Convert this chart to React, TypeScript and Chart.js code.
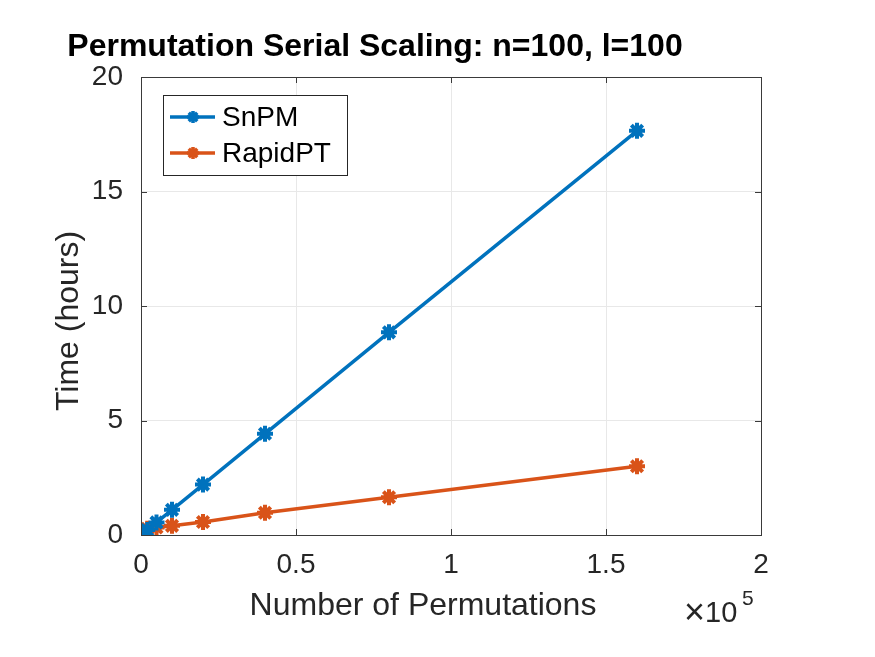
import React, { useEffect, useRef } from "react";
import { Chart, registerables } from "chart.js";

Chart.register(...registerables);

const permutations = [2000, 5000, 10000, 20000, 40000, 80000, 160000];
const snpmHours = [0.22, 0.55, 1.1, 2.2, 4.42, 8.85, 17.65];
const rapidptHours = [0.27, 0.33, 0.4, 0.57, 0.97, 1.65, 3.0];
const seriesNames = ["SnPM", "RapidPT"];
const seriesColors = ["#0072BD", "#D95319"];
const xTickValues = [0, 50000, 100000, 150000, 200000];
const yTickValues = [0, 5, 10, 15, 20];
const titleText = "Permutation Serial Scaling: n=100, l=100";
const xLabel = "Number of Permutations";
const yLabel = "Time (hours)";

const FONT = "'Liberation Sans', Arial, Helvetica, sans-serif";
const AXIS_COLOR = "#262626";

function drawStar(ctx: any, x: number, y: number, r: number, color: string) {
  ctx.save();
  ctx.strokeStyle = color;
  ctx.lineWidth = 3.5;
  ctx.beginPath();
  for (let k = 0; k < 4; k++) {
    const ang = (k * Math.PI) / 4;
    ctx.moveTo(x - r * Math.cos(ang), y - r * Math.sin(ang));
    ctx.lineTo(x + r * Math.cos(ang), y + r * Math.sin(ang));
  }
  ctx.stroke();
  ctx.restore();
}

const decorPlugin = {
  id: "decor",
  afterDraw(chart: any) {
    const { ctx, chartArea: a, scales } = chart;
    const xs = scales.x;
    const ys = scales.y;
    ctx.save();
    // box
    ctx.strokeStyle = "#3a3a3a";
    ctx.lineWidth = 1;
    ctx.strokeRect(Math.round(a.left) + 0.5, Math.round(a.top) + 0.5, Math.round(a.right - a.left), Math.round(a.bottom - a.top));
    // inward ticks
    const tl = 6;
    ctx.beginPath();
    xTickValues.forEach((v) => {
      const px = Math.round(xs.getPixelForValue(v)) + 0.5;
      ctx.moveTo(px, a.bottom);
      ctx.lineTo(px, a.bottom - tl);
      ctx.moveTo(px, a.top);
      ctx.lineTo(px, a.top + tl);
    });
    yTickValues.forEach((v) => {
      const py = Math.round(ys.getPixelForValue(v)) + 0.5;
      ctx.moveTo(a.left, py);
      ctx.lineTo(a.left + tl, py);
      ctx.moveTo(a.right, py);
      ctx.lineTo(a.right - tl, py);
    });
    ctx.stroke();

    // title
    ctx.fillStyle = "#000";
    ctx.font = `bold 32px ${FONT}`;
    ctx.textAlign = "center";
    ctx.textBaseline = "alphabetic";
    ctx.fillText(titleText, 375, 56);

    // axis labels
    ctx.fillStyle = AXIS_COLOR;
    ctx.font = `32px ${FONT}`;
    ctx.fillText(xLabel, 423, 615);
    ctx.save();
    ctx.translate(78, 321);
    ctx.rotate(-Math.PI / 2);
    ctx.fillText(yLabel, 0, 0);
    ctx.restore();

    // exponent
    ctx.textAlign = "left";
    ctx.font = `36px ${FONT}`;
    ctx.fillText("\u00d7", 684, 624);
    ctx.font = `29px ${FONT}`;
    ctx.fillText("10", 705, 622);
    ctx.font = `21px ${FONT}`;
    ctx.fillText("5", 742, 605);

    // legend
    const lx = 163, ly = 95, lw = 184, lh = 80;
    ctx.fillStyle = "#fff";
    ctx.fillRect(lx, ly, lw, lh);
    ctx.strokeStyle = "#262626";
    ctx.lineWidth = 1;
    ctx.strokeRect(lx + 0.5, ly + 0.5, lw, lh);
    seriesNames.forEach((name, i) => {
      const cy = 117 + i * 36;
      ctx.strokeStyle = seriesColors[i];
      ctx.lineWidth = 3.5;
      ctx.beginPath();
      ctx.moveTo(170, cy);
      ctx.lineTo(215, cy);
      ctx.stroke();
      drawStar(ctx, 193, cy, 6, seriesColors[i]);
      ctx.fillStyle = "#000";
      ctx.font = `28px ${FONT}`;
      ctx.textAlign = "left";
      ctx.textBaseline = "middle";
      ctx.fillText(name, 222, cy + 1);
    });
    ctx.restore();
  },
};

export default function App() {
  const ref = useRef<HTMLCanvasElement | null>(null);
  useEffect(() => {
    if (!ref.current) return;
    const mk = (vals: number[]) => permutations.map((x, i) => ({ x, y: vals[i] }));
    const ds = (i: number, vals: number[]) => ({
      label: seriesNames[i],
      data: mk(vals),
      borderColor: seriesColors[i],
      backgroundColor: seriesColors[i],
      borderWidth: 3.5,
      pointStyle: "star",
      pointRadius: 8,
      pointBorderWidth: 4,
      pointHoverRadius: 8,
    });
    const chart = new Chart(ref.current, {
      type: "line",
      data: { datasets: [ds(0, snpmHours), ds(1, rapidptHours)] },
      options: {
        responsive: false,
        animation: false,
        events: [],
        layout: { padding: { left: 0, top: 77, right: 114, bottom: 0 } },
        plugins: {
          legend: { display: false },
          title: { display: false },
          tooltip: { enabled: false },
        },
        scales: {
          x: {
            type: "linear",
            min: 0,
            max: 200000,
            afterFit: (s: any) => {
              s.height = 122;
            },
            afterBuildTicks: (s: any) => {
              s.ticks = xTickValues.map((v) => ({ value: v }));
            },
            ticks: {
              autoSkip: false,
              maxRotation: 0,
              padding: 13,
              color: AXIS_COLOR,
              font: { family: FONT, size: 28 },
              callback: (v: any) => String(Number(v) / 100000),
            },
            grid: { color: "#e8e8e8", drawTicks: false, lineWidth: 1 },
            border: { display: false },
          },
          y: {
            type: "linear",
            min: 0,
            max: 20,
            afterFit: (s: any) => {
              s.width = 141;
            },
            afterBuildTicks: (s: any) => {
              s.ticks = yTickValues.map((v) => ({ value: v }));
            },
            ticks: {
              autoSkip: false,
              padding: 18,
              color: AXIS_COLOR,
              font: { family: FONT, size: 28 },
            },
            grid: { color: "#e8e8e8", drawTicks: false, lineWidth: 1 },
            border: { display: false },
          },
        },
      },
      plugins: [decorPlugin],
    } as any);
    return () => chart.destroy();
  }, []);
  return (
    <div style={{ position: "absolute", left: 0, top: 0, width: 875, height: 657, background: "#fff" }}>
      <canvas ref={ref} width={875} height={657} style={{ display: "block" }} />
    </div>
  );
}
